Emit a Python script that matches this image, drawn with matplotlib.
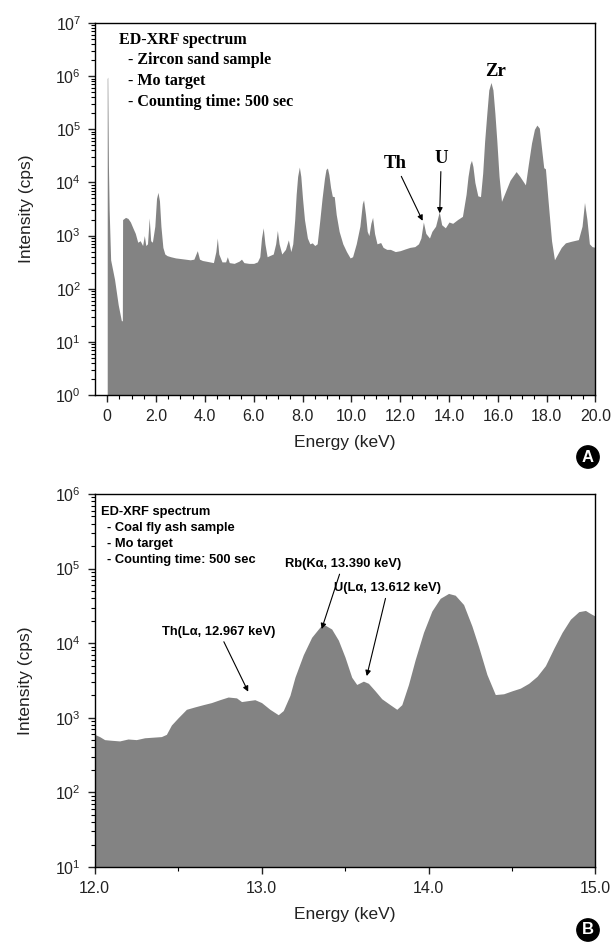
import matplotlib
matplotlib.use("Agg")
import matplotlib.pyplot as plt
from matplotlib.ticker import FixedLocator, LogLocator, NullFormatter

# Panel A: zircon sand spectrum, 0-20 keV
energy_a = [0.00, 0.00, 0.02, 0.05, 0.08, 0.14, 0.30, 0.45, 0.58, 0.62, 0.63,
            0.75, 0.85, 0.95, 1.05, 1.15, 1.25, 1.35, 1.45, 1.52, 1.58, 1.65,
            1.72, 1.78, 1.85, 1.95, 2.02, 2.08, 2.14, 2.20, 2.28, 2.36, 2.45,
            2.60, 2.80, 3.00, 3.20, 3.40, 3.55, 3.69, 3.78, 3.90, 4.05, 4.20,
            4.35, 4.45, 4.51, 4.57, 4.70, 4.85, 4.92, 5.00, 5.20, 5.40, 5.50,
            5.60, 5.80, 6.00, 6.15, 6.25, 6.32, 6.39, 6.46, 6.55, 6.65, 6.80,
            6.90, 6.97, 7.04, 7.15, 7.30, 7.42, 7.52,
            7.60, 7.68, 7.74, 7.80, 7.87, 7.93, 8.00, 8.08, 8.20,
            8.30, 8.40, 8.50, 8.60,
            8.70, 8.80, 8.90, 8.96, 9.02, 9.08, 9.15, 9.22, 9.30, 9.38,
            9.50, 9.65, 9.80, 9.95, 10.05, 10.20, 10.35,
            10.45, 10.50, 10.58, 10.65, 10.72, 10.80, 10.87, 10.95, 11.05,
            11.20, 11.30, 11.45, 11.60, 11.80, 12.00, 12.20, 12.40, 12.60,
            12.75, 12.85, 12.95, 13.05, 13.20, 13.30, 13.45, 13.60, 13.70,
            13.85, 14.00, 14.15, 14.35, 14.55,
            14.70, 14.78, 14.86, 14.92, 14.98, 15.06, 15.18, 15.29,
            15.38, 15.46, 15.55, 15.63, 15.72, 15.80, 15.88, 15.96, 16.05, 16.15,
            16.30, 16.50, 16.75, 16.90, 17.13,
            17.25, 17.38, 17.50, 17.60, 17.70, 17.80, 17.88, 17.95, 18.05,
            18.20, 18.32, 18.45, 18.60, 18.77,
            19.00, 19.30, 19.45, 19.55, 19.65, 19.75, 19.86, 20.00]
intensity_a = [1, 9.0e5, 9.6e5, 2.0e4, 3000, 350, 150, 50, 25, 25, 2000,
               2200, 2100, 1800, 1400, 1100, 750, 800, 650, 1000, 650, 700,
               2150, 800, 750, 1500, 5000, 6500, 4500, 1500, 600, 450, 420,
               400, 380, 370, 360, 350, 360, 520, 360, 340, 330, 320,
               310, 500, 900, 450, 320, 320, 400, 310, 300, 330, 360,
               310, 300, 300, 320, 400, 900, 1400, 700, 400, 420, 450,
               700, 1250, 700, 450, 550, 830, 500,
               700, 2000, 6000, 13000, 19500, 13000, 5000, 2000, 900,
               700, 730, 650, 700,
               1800, 5000, 12000, 17500, 18700, 14000, 8000, 5500, 5400, 2500,
               1200, 700, 500, 380, 400, 700, 1500,
               4000, 4700, 2500, 1200, 1000, 1700, 2200, 1100, 700,
               740, 600, 550, 550, 500, 520, 560, 600, 620,
               700, 900, 1800, 1100, 900, 1200, 1500, 2800, 1600,
               1400, 1800, 1700, 2000, 2300,
               6000, 13000, 22000, 26000, 20000, 10000, 5600, 5400,
               15000, 60000, 200000, 550000, 760000, 550000, 200000, 60000, 13000, 4400,
               6500, 11000, 16000, 13000, 9000,
               22000, 55000, 100000, 120000, 105000, 40000, 19000, 18000, 5000,
               800, 350, 450, 600, 730,
               780, 840, 1500, 4200, 2000, 700, 620, 600]

# Panel B: coal fly ash spectrum, 12-15 keV
energy_b = [12.00, 12.03, 12.06, 12.10, 12.15, 12.20, 12.25, 12.30, 12.35,
            12.40, 12.43, 12.46, 12.50, 12.55, 12.60, 12.65, 12.70, 12.75,
            12.80, 12.85, 12.88, 12.92, 12.96, 13.00, 13.05, 13.10, 13.13,
            13.17, 13.20, 13.25, 13.30, 13.35, 13.38, 13.42, 13.46, 13.50,
            13.54, 13.57, 13.61, 13.64, 13.68, 13.72, 13.77, 13.81, 13.84,
            13.88, 13.92, 13.97, 14.02, 14.07, 14.12, 14.16, 14.21, 14.26,
            14.30, 14.35, 14.40, 14.45, 14.50, 14.55, 14.60, 14.65, 14.70,
            14.75, 14.80, 14.85, 14.90, 14.94, 14.97, 15.00]
intensity_b = [600, 560, 510, 500, 490, 520, 510, 540, 550,
               560, 600, 800, 1000, 1300, 1400, 1500, 1600, 1750,
               1900, 1850, 1650, 1700, 1750, 1600, 1300, 1100, 1250,
               2000, 3500, 7000, 12000, 16500, 17500, 15500, 11000, 6500,
               3500, 2800, 3100, 2900, 2300, 1800, 1500, 1300, 1500,
               2800, 6000, 14000, 27000, 40000, 46500, 44000, 33000, 17000,
               9000, 3800, 2050, 2100, 2300, 2500, 2900, 3600, 5000,
               8500, 14000, 21000, 26500, 27500, 25000, 23000]

ticks_a = [0, 2, 4, 6, 8, 10, 12, 14, 16, 18, 20]
ticklabels_a = ["0", "2.0", "4.0", "6.0", "8.0", "10.0", "12.0", "14.0",
                "16.0", "18.0", "20.0"]
ticks_b = [12, 13, 14, 15]
ticklabels_b = ["12.0", "13.0", "14.0", "15.0"]

plt.rcParams['font.family'] = ['Liberation Sans', 'DejaVu Sans']
plt.rcParams['mathtext.fontset'] = 'custom'
plt.rcParams['mathtext.rm'] = 'Liberation Sans'
plt.rcParams['mathtext.it'] = 'Liberation Sans:italic'
plt.rcParams['mathtext.bf'] = 'Liberation Sans:bold'

GRAY = '#838383'
fig = plt.figure(figsize=(6.11, 9.43), dpi=100)
ax_a = fig.add_axes([0.1555, 0.5811, 0.8191, 0.3945])
ax_b = fig.add_axes([0.1548, 0.0806, 0.8198, 0.3955])


def style(ax, ymin, ymax, xticks, xlabels, xminor):
    ax.set_yscale('log')
    ax.set_ylim(10 ** ymin, 10 ** ymax)
    ax.yaxis.set_major_locator(FixedLocator([10 ** n for n in range(ymin, ymax + 1)]))
    ax.set_yticklabels([r'$\mathrm{10^{%d}}$' % n for n in range(ymin, ymax + 1)])
    ax.yaxis.set_minor_locator(LogLocator(base=10, subs=range(2, 10), numticks=20))
    ax.yaxis.set_minor_formatter(NullFormatter())
    ax.xaxis.set_major_locator(FixedLocator(xticks))
    ax.set_xticklabels(xlabels)
    ax.xaxis.set_minor_locator(FixedLocator(xminor))
    ax.tick_params(which='major', direction='out', length=5, width=1,
                   labelsize=11.5, pad=5, colors='#222222', labelcolor='#222222')
    ax.tick_params(which='minor', direction='out', length=3, width=0.8)
    for s in ax.spines.values():
        s.set_linewidth(1.0)
    ax.set_xlabel('Energy (keV)', fontsize=12.5, labelpad=8, color='#222222')
    ax.set_ylabel('Intensity (cps)', fontsize=12.5, color='#222222')
    ax.yaxis.set_label_coords(-0.122, 0.5)


# ---- panel A ----
ax_a.fill_between(energy_a, intensity_a, 1, color=GRAY, lw=0)
ax_a.set_xlim(-0.5, 20)
style(ax_a, 0, 7, ticks_a, ticklabels_a,
      [i * 0.5 for i in range(41) if i % 4 != 0])

serif_b = dict(family='Liberation Serif', weight='bold')
ax_a.text(0.047, 0.955, 'ED-XRF spectrum', transform=ax_a.transAxes,
          fontsize=11.5, va='center', **serif_b)
for i, line in enumerate(['- Zircon sand sample', '- Mo target',
                          '- Counting time: 500 sec']):
    ax_a.text(0.065, 0.9 - 0.056 * i, line, transform=ax_a.transAxes,
              fontsize=11.5, va='center', **serif_b)

ax_a.text(15.9, 1.2e6, 'Zr', ha='center', va='center', fontsize=13.5, **serif_b)
ax_a.annotate('Th', xy=(12.92, 1900), xytext=(11.8, 22400), ha='center',
              va='center', fontsize=13.5, **serif_b,
              arrowprops=dict(arrowstyle='-|>', color='black', lw=0.8,
                              mutation_scale=8, shrinkA=1, shrinkB=0))
ax_a.annotate('U', xy=(13.62, 2630), xytext=(13.68, 27700), ha='center',
              va='center', fontsize=13.5, **serif_b,
              arrowprops=dict(arrowstyle='-|>', color='black', lw=0.8,
                              mutation_scale=8, shrinkA=1, shrinkB=0))

# ---- panel B ----
ax_b.fill_between(energy_b, intensity_b, 10, color=GRAY, lw=0)
ax_b.set_xlim(12, 15)
style(ax_b, 1, 6, ticks_b, ticklabels_b, [12.5, 13.5, 14.5])

sans_b = dict(family='Liberation Sans', weight='bold')
ax_b.text(0.013, 0.952, 'ED-XRF spectrum', transform=ax_b.transAxes,
          fontsize=9.3, va='center', **sans_b)
for i, line in enumerate(['- Coal fly ash sample', '- Mo target',
                          '- Counting time: 500 sec']):
    ax_b.text(0.025, 0.908 - 0.0425 * i, line, transform=ax_b.transAxes,
              fontsize=9.3, va='center', **sans_b)

arrow = dict(arrowstyle='-|>', color='black', lw=0.8, mutation_scale=8,
             shrinkA=1, shrinkB=0)
ax_b.annotate('Th(L\u03b1, 12.967 keV)', xy=(12.92, 2240), xytext=(12.745, 14260),
              ha='center', va='center', fontsize=9.3, arrowprops=arrow, **sans_b)
ax_b.annotate('Rb(K\u03b1, 13.390 keV)', xy=(13.36, 15500), xytext=(13.487, 115000),
              ha='center', va='center', fontsize=9.3, arrowprops=arrow, **sans_b)
ax_b.annotate('U(L\u03b1, 13.612 keV)', xy=(13.63, 3630), xytext=(13.757, 54500),
              ha='center', va='center', fontsize=9.3, arrowprops=arrow, **sans_b)

# panel letters
for letter, yy in (('A', 1 - 457 / 943), ('B', 1 - 930 / 943)):
    fig.text(588 / 611, yy, letter, ha='center', va='center', color='white',
             fontsize=12, weight='bold', family='Liberation Sans',
             bbox=dict(boxstyle='circle,pad=0.22', fc='black', ec='black'))

fig.savefig('out.png', dpi=100)
